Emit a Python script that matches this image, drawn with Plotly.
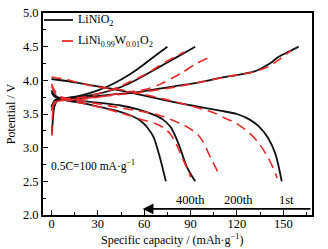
import plotly.graph_objects as go

# ---- data (capacity mAh/g, potential V) ----
# LiNiO2 (black solid)
ni_c1_x = [0.3, 1, 2, 4, 10, 20, 28, 40, 50, 60, 71, 82, 93, 102, 110, 118, 125, 131, 136, 142, 147, 154, 160]
ni_c1_y = [3.20, 3.45, 3.62, 3.70, 3.72, 3.74, 3.76, 3.79, 3.81, 3.84, 3.88, 3.92, 3.96, 4.00, 4.04, 4.07, 4.10, 4.13, 4.18, 4.26, 4.35, 4.43, 4.50]
ni_c200_x = [0, 2, 5, 10, 20, 30, 40, 50, 60, 70, 80, 93]
ni_c200_y = [3.60, 3.70, 3.73, 3.74, 3.76, 3.80, 3.86, 3.95, 4.07, 4.20, 4.33, 4.50]
ni_c400_x = [0, 2, 5, 10, 20, 30, 40, 50, 60, 68, 75]
ni_c400_y = [3.60, 3.70, 3.73, 3.74, 3.78, 3.85, 3.95, 4.08, 4.24, 4.38, 4.50]
ni_d1_x = [0, 10, 20, 30, 40, 53, 72, 90, 109, 120, 128, 134, 140, 145, 149]
ni_d1_y = [4.02, 3.99, 3.95, 3.91, 3.87, 3.81, 3.71, 3.63, 3.55, 3.50, 3.42, 3.32, 3.15, 2.90, 2.50]
ni_d200_x = [0, 2, 5, 10, 20, 30, 44, 56, 66, 72, 77, 80, 83, 87.5, 93]
ni_d200_y = [3.85, 3.78, 3.74, 3.72, 3.69, 3.67, 3.63, 3.57, 3.49, 3.42, 3.31, 3.18, 3.01, 2.72, 2.50]
ni_d400_x = [0, 2, 5, 10, 20, 30, 44, 52, 57, 62, 66, 70, 74]
ni_d400_y = [3.82, 3.76, 3.73, 3.70, 3.66, 3.61, 3.535, 3.47, 3.41, 3.30, 3.16, 2.87, 2.50]

# LiNi0.99W0.01O2 (red dashed)
w_c1_x = [0.3, 1, 3, 8, 20, 40, 60, 80, 100, 115, 130, 140, 148, 155]
w_c1_y = [3.18, 3.55, 3.68, 3.70, 3.73, 3.78, 3.83, 3.90, 3.99, 4.06, 4.12, 4.20, 4.32, 4.44]
w_c200_x = [0, 2, 5, 10, 20, 30, 40, 50, 62, 70, 78, 85, 93, 101]
w_c200_y = [3.55, 3.66, 3.70, 3.71, 3.72, 3.75, 3.79, 3.83, 3.87, 3.94, 4.03, 4.12, 4.24, 4.33]
w_c400_x = [0, 2, 5, 10, 20, 30, 40, 50, 60, 70, 80, 86]
w_c400_y = [3.55, 3.68, 3.72, 3.73, 3.75, 3.80, 3.87, 3.97, 4.08, 4.22, 4.35, 4.42]
w_d1_x = [0, 10, 20, 30, 45, 60, 75, 90, 105, 112, 119, 128, 134, 140, 144, 146]
w_d1_y = [4.05, 4.01, 3.95, 3.90, 3.86, 3.79, 3.71, 3.62, 3.52, 3.44, 3.37, 3.22, 3.07, 2.86, 2.67, 2.55]
w_d200_x = [0, 2, 5, 10, 20, 40, 55, 67, 78, 86, 94, 98, 103, 107, 109]
w_d200_y = [3.95, 3.85, 3.77, 3.73, 3.69, 3.61, 3.55, 3.50, 3.41, 3.33, 3.21, 3.09, 2.85, 2.67, 2.57]
w_d400_x = [0, 2, 5, 10, 20, 35, 50, 58, 67, 73, 77, 81, 85, 89, 90]
w_d400_y = [3.92, 3.82, 3.75, 3.71, 3.66, 3.58, 3.48, 3.42, 3.36, 3.29, 3.20, 3.04, 2.83, 2.63, 2.56]

series_names = ["LiNiO<sub>2</sub>",
                "LiNi<sub><span style='font-size:8px'>0.99</span></sub>W<sub><span style='font-size:8px'>0.01</span></sub>O<sub>2</sub>"]
cycle_labels = ["400th", "200th", "1st"]
cycle_label_x = [90, 121, 152]

FONT = "Liberation Serif"
BLACK = "#111111"
RED = "#ee2a2a"

fig = go.Figure()

black_sets = [(ni_c1_x, ni_c1_y), (ni_c200_x, ni_c200_y), (ni_c400_x, ni_c400_y),
              (ni_d1_x, ni_d1_y), (ni_d200_x, ni_d200_y), (ni_d400_x, ni_d400_y)]
red_sets = [(w_c1_x, w_c1_y), (w_c200_x, w_c200_y), (w_c400_x, w_c400_y),
            (w_d1_x, w_d1_y), (w_d200_x, w_d200_y), (w_d400_x, w_d400_y)]

for xs, ys in black_sets:
    fig.add_trace(go.Scatter(x=xs, y=ys, mode="lines", line=dict(color=BLACK, width=1.8, shape="spline", smoothing=0.8),
                             name=series_names[0], showlegend=False))
for xs, ys in red_sets:
    fig.add_trace(go.Scatter(x=xs, y=ys, mode="lines", line=dict(color=RED, width=1.6, dash="10px,6px", shape="spline", smoothing=0.8),
                             name=series_names[1], showlegend=False))

# legend (drawn in paper coordinates of the plot area)
PW, PH = 269.0, 202.0
def px(xp):
    return (xp - 43) / PW
def py(yp):
    return (215 - yp) / PH

fig.add_shape(type="line", xref="paper", yref="paper", x0=px(44), x1=px(73), y0=py(20), y1=py(20),
              line=dict(color=BLACK, width=1.8))
fig.add_shape(type="line", xref="paper", yref="paper", x0=px(62), x1=px(73), y0=py(41), y1=py(41),
              line=dict(color=RED, width=1.8))
fig.add_annotation(x=px(76), y=py(20), xref="paper", yref="paper", text=series_names[0], showarrow=False,
                   xanchor="left", yanchor="middle", font=dict(family=FONT, size=12, color="black"))
fig.add_annotation(x=px(76), y=py(41), xref="paper", yref="paper", text=series_names[1], showarrow=False,
                   xanchor="left", yanchor="middle", font=dict(family=FONT, size=12, color="black"))

for lab, lx in zip(cycle_labels, cycle_label_x):
    fig.add_annotation(x=lx, y=2.22, text=lab, showarrow=False, xref="x", yref="y",
                       font=dict(family=FONT, size=12.5, color="black"))

fig.add_annotation(x=59, y=2.09, ax=168.6, ay=2.09, xref="x", yref="y", axref="x", ayref="y",
                   text="", showarrow=True, arrowhead=2, arrowsize=1.2, arrowwidth=1.8, arrowcolor="black")

fig.add_annotation(x=-1.8, y=2.73, text="0.5C=100 mA·g<sup>−1</sup>", showarrow=False, xref="x", yref="y",
                   xanchor="left", font=dict(family=FONT, size=11.5, color="black"))

# axis titles
fig.add_annotation(x=0.48, y=-0.12, xref="paper", yref="paper", text="Specific capacity / (mAh·g<sup>−1</sup>)",
                   showarrow=False, xanchor="center", yanchor="middle", font=dict(family=FONT, size=12, color="black"))
fig.add_annotation(x=-0.118, y=0.5, xref="paper", yref="paper", text="Potential / V", textangle=-90,
                   showarrow=False, xanchor="center", yanchor="middle", font=dict(family=FONT, size=12, color="black"))

fig.update_layout(
    width=328, height=249,
    margin=dict(l=43, r=16, t=13, b=34, autoexpand=False),
    paper_bgcolor="white", plot_bgcolor="white",
    font=dict(family=FONT, size=12.5, color="black"),
    showlegend=False,
)
fig.update_xaxes(range=[-5.5, 168.6], tickmode="array", tickvals=[0, 30, 60, 90, 120, 150],
                 ticks="inside", ticklen=5, tickwidth=1.2, tickcolor="black", automargin=False, ticklabelstandoff=-4,
                 minor=dict(tickvals=[15, 45, 75, 105, 135, 165], ticks="inside", ticklen=3, tickwidth=1.2, tickcolor="black"),
                 showline=True, linecolor="black", linewidth=1.8, mirror=True, showgrid=False, zeroline=False,
                 tickfont=dict(family=FONT, size=12.5))
fig.update_yaxes(range=[2.0, 5.0], tickmode="array", tickvals=[2.0, 2.5, 3.0, 3.5, 4.0, 4.5, 5.0], tickformat=".1f",
                 ticks="inside", ticklen=5, tickwidth=1.2, tickcolor="black", automargin=False,
                 minor=dict(tickvals=[2.25, 2.75, 3.25, 3.75, 4.25, 4.75], ticks="inside", ticklen=3, tickwidth=1.2, tickcolor="black"),
                 showline=True, linecolor="black", linewidth=1.8, mirror=True, showgrid=False, zeroline=False,
                 tickfont=dict(family=FONT, size=12.5))

fig.write_html("out.html", config={"displayModeBar": False},
               post_script="document.body.style.margin='0';document.body.style.padding='0';")
